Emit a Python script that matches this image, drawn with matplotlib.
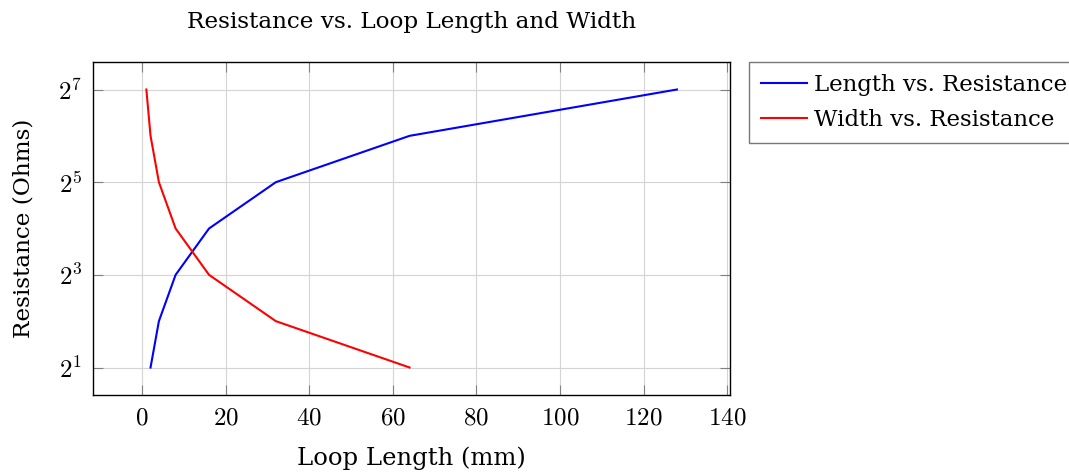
import math
import matplotlib
matplotlib.use('Agg')
import matplotlib.pyplot as plt
from matplotlib.ticker import FixedLocator, FuncFormatter

# данные
length_x = [2, 4, 8, 16, 32, 64, 128]
length_y = [2, 4, 8, 16, 32, 64, 128]
width_x = [1, 2, 4, 8, 16, 32, 64]
width_y = [128, 64, 32, 16, 8, 4, 2]
y_ticks = [2, 8, 32, 128]
x_ticks = [0, 20, 40, 60, 80, 100, 120, 140]

plt.rcParams['font.family'] = ['DejaVu Serif']
plt.rcParams['mathtext.fontset'] = 'cm'

fig = plt.figure(figsize=(10.69, 4.72), dpi=100)
ax = fig.add_axes([93.3 / 1069, 1 - 395.3 / 472, (730 - 93.3) / 1069, (395.3 - 61.7) / 472])

ax.plot(length_x, length_y, color='blue', linewidth=1.5, label='Length vs. Resistance')
ax.plot(width_x, width_y, color='red', linewidth=1.5, label='Width vs. Resistance')

ax.set_yscale('log', base=2)
ax.set_xlim(-11.7, 140.7)
ax.set_ylim(2 ** 0.4, 2 ** 7.6)
ax.yaxis.set_major_locator(FixedLocator(y_ticks))
ax.yaxis.set_minor_locator(FixedLocator([]))
ax.yaxis.set_major_formatter(FuncFormatter(lambda v, p: r'$2^{%d}$' % round(math.log2(v))))
ax.xaxis.set_major_locator(FixedLocator(x_ticks))
ax.xaxis.set_major_formatter(FuncFormatter(lambda v, p: r'$%d$' % v))

ax.grid(True, color='#d4d4d4', linewidth=0.8)
ax.tick_params(direction='in', length=7.5, width=0.8, color='#808080', top=True, right=True,
               labelsize=18, pad=8)
for s in ax.spines.values():
    s.set_linewidth(1.0)

ax.set_title('Resistance vs. Loop Length and Width', fontsize=16.7, pad=24)
ax.set_xlabel('Loop Length (mm)', fontsize=17.5, labelpad=12)
ax.set_ylabel('Resistance (Ohms)', fontsize=16.7, labelpad=17)

leg = ax.legend(loc='upper left', bbox_to_anchor=(1.03, 1.0), fontsize=16.5,
                frameon=True, fancybox=False, borderaxespad=0, handlelength=2.0,
                handletextpad=0.3, borderpad=0.53, labelspacing=0.58)
leg.get_frame().set_edgecolor('#555555')
leg.get_frame().set_linewidth(1.0)

plt.savefig('out.png', dpi=100)
plt.close()
